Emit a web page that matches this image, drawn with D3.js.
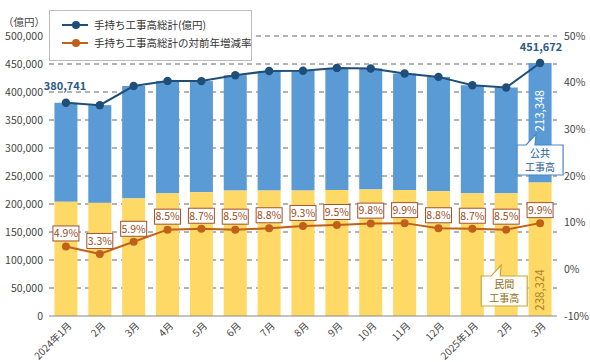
<!DOCTYPE html>
<html>
<head>
<meta charset="utf-8">
<script src="https://cdn.jsdelivr.net/npm/d3@7"></script>
<style>
  html, body { margin: 0; padding: 0; background: #fff; }
  svg { display: block; font-family: "Noto Sans CJK JP", "Noto Sans", sans-serif; }
</style>
</head>
<body>
<div id="chart"></div>
<script>
// months on the x axis
const MONTHS = ["2024年1月", "2月", "3月", "4月", "5月", "6月", "7月", "8月", "9月",
  "10月", "11月", "12月", "2025年1月", "2月", "3月"];
// 手持ち工事高総計 (億円)
const TOTAL = [380741, 376500, 410700, 419800, 419500, 430000, 437500, 438000, 443000,
  442000, 433000, 427000, 412000, 408000, 451672];
// 民間工事高 (yellow part of each bar)
const PRIVATE = [204000, 202000, 210000, 219000, 221000, 224000, 224000, 224000, 225000,
  226000, 225000, 223000, 219000, 219000, 238324];
// 対前年増減率 (%)
const RATE = [4.9, 3.3, 5.9, 8.5, 8.7, 8.5, 8.8, 9.3, 9.5, 9.8, 9.9, 8.8, 8.7, 8.5, 9.9];

const LEFT_TICKS = [0, 50000, 100000, 150000, 200000, 250000, 300000, 350000, 400000, 450000, 500000];
const RIGHT_TICKS = [-10, 0, 10, 20, 30, 40, 50];

const W = 590, H = 362;
const NAVY = "#1f4e79";
const ORANGE = "#c0601a";
const BLUE = "#5b9bd5";
const YELLOW = "#ffd966";

const rows = MONTHS.map((m, i) => ({
  key: i, label: m, total: TOTAL[i], priv: PRIVATE[i], rate: RATE[i],
}));

const x = d3.scaleBand()
  .domain(rows.map((d) => d.key))
  .range([49, 557])
  .paddingInner(0.32)
  .paddingOuter(0.16);

const yL = d3.scaleLinear().domain([0, 500000]).range([316, 36]);
const yR = d3.scaleLinear().domain([-10, 50]).range([316, 36]);
const cx = (d) => x(d.key) + x.bandwidth() / 2;

const svg = d3.select("#chart").append("svg")
  .attr("width", W).attr("height", H);

// grid
svg.append("g").selectAll("line")
  .data(LEFT_TICKS.filter((t) => t > 0))
  .join("line")
  .attr("x1", 49).attr("x2", 557)
  .attr("y1", (d) => yL(d)).attr("y2", (d) => yL(d))
  .attr("stroke", "#666").attr("stroke-width", 1)
  .attr("stroke-dasharray", "5,4");

// left axis labels
svg.append("g").selectAll("text")
  .data(LEFT_TICKS)
  .join("text")
  .attr("x", 43).attr("y", (d) => yL(d))
  .attr("dy", "0.35em")
  .attr("text-anchor", "end")
  .attr("font-size", 10.5).attr("fill", "#444")
  .text((d) => d3.format(",")(d));

svg.append("text")
  .attr("x", 24).attr("y", 26)
  .attr("text-anchor", "middle")
  .attr("font-size", 10.5).attr("fill", "#444")
  .text("（億円）");

// right axis labels
svg.append("g").selectAll("text")
  .data(RIGHT_TICKS)
  .join("text")
  .attr("x", 564).attr("y", (d) => yR(d))
  .attr("dy", "0.35em")
  .attr("font-size", 10.5).attr("fill", "#444")
  .text((d) => d + "%");

// bars: public (blue) on top of private (yellow)
const bars = svg.append("g");
bars.selectAll("rect.pub")
  .data(rows)
  .join("rect")
  .attr("class", "pub")
  .attr("x", (d) => x(d.key)).attr("width", x.bandwidth())
  .attr("y", (d) => yL(d.total))
  .attr("height", (d) => yL(d.priv) - yL(d.total))
  .attr("fill", BLUE);
bars.selectAll("rect.priv")
  .data(rows)
  .join("rect")
  .attr("class", "priv")
  .attr("x", (d) => x(d.key)).attr("width", x.bandwidth())
  .attr("y", (d) => yL(d.priv))
  .attr("height", (d) => yL(0) - yL(d.priv))
  .attr("fill", YELLOW);

// baseline
svg.append("line")
  .attr("x1", 49).attr("x2", 557)
  .attr("y1", yL(0)).attr("y2", yL(0))
  .attr("stroke", "#888").attr("stroke-width", 1.2);

// x labels
svg.append("g").selectAll("text")
  .data(rows)
  .join("text")
  .attr("transform", (d) => `translate(${cx(d) + 4},${yL(0) + 8}) rotate(-45)`)
  .attr("text-anchor", "end")
  .attr("dy", "0.35em")
  .attr("font-size", 10).attr("fill", "#444")
  .text((d) => d.label);

// total line
svg.append("path")
  .datum(rows)
  .attr("fill", "none").attr("stroke", NAVY).attr("stroke-width", 2)
  .attr("d", d3.line().x(cx).y((d) => yL(d.total)));
svg.append("g").selectAll("circle")
  .data(rows)
  .join("circle")
  .attr("cx", cx).attr("cy", (d) => yL(d.total))
  .attr("r", 4.2).attr("fill", NAVY);

// rate line
svg.append("path")
  .datum(rows)
  .attr("fill", "none").attr("stroke", ORANGE).attr("stroke-width", 2)
  .attr("d", d3.line().x(cx).y((d) => yR(d.rate)));
svg.append("g").selectAll("circle")
  .data(rows)
  .join("circle")
  .attr("cx", cx).attr("cy", (d) => yR(d.rate))
  .attr("r", 4).attr("fill", ORANGE);

// rate labels in boxes
const rl = svg.append("g").selectAll("g")
  .data(rows)
  .join("g")
  .attr("transform", (d) => `translate(${cx(d)},${yR(d.rate) - 13})`);
rl.append("rect")
  .attr("x", -13).attr("y", -7.5).attr("width", 26).attr("height", 15)
  .attr("fill", "#fff").attr("stroke", "#a0522d").attr("stroke-width", 1);
rl.append("text")
  .attr("text-anchor", "middle").attr("dy", "0.36em")
  .attr("font-size", 10.5).attr("fill", "#9a4a1a")
  .text((d) => d.rate.toFixed(1) + "%");

// total labels on first and last points
const first = rows[0], last = rows[rows.length - 1];
svg.append("text")
  .attr("x", cx(first) - 1).attr("y", yL(first.total) - 13)
  .attr("text-anchor", "middle")
  .attr("font-size", 11).attr("font-weight", 600).attr("fill", "#2e5a8a")
  .text(d3.format(",")(first.total));
svg.append("text")
  .attr("x", cx(last) + 1).attr("y", yL(last.total) - 12)
  .attr("text-anchor", "middle")
  .attr("font-size", 11).attr("font-weight", 600).attr("fill", "#2e5a8a")
  .text(d3.format(",")(last.total));

// rotated values inside last bar
svg.append("text")
  .attr("transform", `translate(${cx(last)},${(yL(last.total) + yL(last.priv)) / 2 - 12}) rotate(-90)`)
  .attr("text-anchor", "middle").attr("dy", "0.36em")
  .attr("font-size", 11.5).attr("fill", "#fff")
  .text(d3.format(",")(last.total - last.priv));
svg.append("text")
  .attr("transform", `translate(${cx(last)},${yL(0) - 26}) rotate(-90)`)
  .attr("text-anchor", "middle").attr("dy", "0.36em")
  .attr("font-size", 11.5).attr("fill", "#a8862a")
  .text(d3.format(",")(last.priv));

// callouts
function callout(bx, by, w, h, tipX, tipY, baseL, baseR, stroke, color, lines) {
  const g = svg.append("g");
  const p = d3.path();
  p.moveTo(bx, by);
  p.lineTo(baseL, by);
  p.lineTo(tipX, tipY);
  p.lineTo(baseR, by);
  p.lineTo(bx + w, by);
  p.lineTo(bx + w, by + h);
  p.lineTo(bx, by + h);
  p.closePath();
  g.append("path").attr("d", p.toString())
    .attr("fill", "#fff").attr("fill-opacity", 0.95)
    .attr("stroke", stroke).attr("stroke-width", 1.2);
  g.selectAll("text").data(lines).join("text")
    .attr("x", bx + w / 2).attr("y", (d, i) => by + 8 + i * 14.5)
    .attr("text-anchor", "middle").attr("dy", "0.36em")
    .attr("font-size", 10).attr("fill", color)
    .text((d) => d);
}
const pubX = cx(last);
callout(pubX - 23, 145, 46, 30, pubX - 4, 134, pubX - 14, pubX - 5, "#4a86c4", "#2d5c8f", ["公共", "工事高"]);
const privX = cx(rows[13]);
callout(privX - 25, 276, 46, 30, privX - 5, 265, privX - 15, privX - 6, "#c8a83c", "#8d6e1c", ["民間", "工事高"]);

// legend
const lg = svg.append("g");
lg.append("rect")
  .attr("x", 49.5).attr("y", 10.5).attr("width", 202).attr("height", 50)
  .attr("fill", "#fff").attr("stroke", "#bbb");
const LEGEND = [
  { label: "手持ち工事高総計(億円)", color: NAVY },
  { label: "手持ち工事高総計の対前年増減率", color: ORANGE },
];
const li = lg.selectAll("g.item").data(LEGEND).join("g")
  .attr("class", "item")
  .attr("transform", (d, i) => `translate(0,${25 + i * 18})`);
li.append("line").attr("x1", 62).attr("x2", 88)
  .attr("stroke", (d) => d.color).attr("stroke-width", 2);
li.append("circle").attr("cx", 76).attr("r", 4).attr("fill", (d) => d.color);
li.append("text").attr("x", 94).attr("dy", "0.36em")
  .attr("font-size", 10.5).attr("fill", "#333")
  .text((d) => d.label);
</script>
</body>
</html>
